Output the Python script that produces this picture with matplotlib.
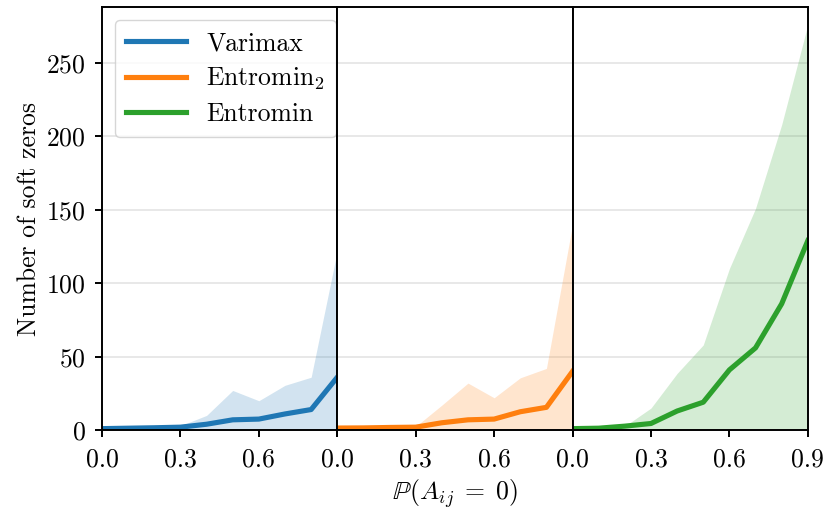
import numpy as np
import matplotlib
matplotlib.use("Agg")
import matplotlib.pyplot as plt

plt.rcParams['font.family'] = 'serif'
plt.rcParams['font.serif'] = ['cmr10']
plt.rcParams['mathtext.fontset'] = 'cm'
plt.rcParams['axes.formatter.use_mathtext'] = True

x = [0.0, 0.1, 0.2, 0.3, 0.4, 0.5, 0.6, 0.7, 0.8, 0.9]
methods = ["Varimax", r"Entromin$_2$", "Entromin"]
colors = ["#1f77b4", "#ff7f0e", "#2ca02c"]
varimax_mean = [1, 1.3, 1.6, 2, 4, 7, 7.5, 11, 14, 36]
varimax_upper = [1.5, 2, 2.5, 3, 10, 27, 20, 30.5, 36, 122]
entromin2_mean = [1.4, 1.5, 1.8, 2, 5, 7, 7.5, 12.5, 15.5, 40]
entromin2_upper = [2, 2.5, 3, 2.5, 17, 32, 22, 35.6, 42, 140]
entromin_mean = [1, 1.3, 2.7, 4.5, 13, 19, 41, 56, 86, 129]
entromin_upper = [1.5, 2, 2.7, 15, 38.6, 58, 110, 151, 208, 276]
means = [varimax_mean, entromin2_mean, entromin_mean]
uppers = [varimax_upper, entromin2_upper, entromin_upper]
yticks = [0, 50, 100, 150, 200, 250]

FS = 18.5

fig, axes = plt.subplots(1, 3, sharey=True, figsize=(8.26, 5.09), dpi=100)
fig.subplots_adjust(left=0.1235, right=0.978, top=0.986, bottom=0.155, wspace=0)

lines = []
for i, ax in enumerate(axes):
    ax.fill_between(x, 0, uppers[i], color=colors[i], alpha=0.2, linewidth=0)
    ln, = ax.plot(x, means[i], color=colors[i], linewidth=3.7, label=methods[i])
    lines.append(ln)
    ax.set_xlim(0, 0.9)
    ax.set_ylim(0, 288)
    ax.set_yticks(yticks)
    ax.grid(axis='y', color='#e6e6e6', linewidth=1.3)
    ax.set_axisbelow(True)
    for s in ax.spines.values():
        s.set_linewidth(1.4)
    ax.tick_params(axis='both', labelsize=FS, width=1.4, length=5)
    ax.tick_params(axis='x', pad=8)
    ax.tick_params(axis='y', pad=6.5)
    ax.set_xticks([0.0, 0.3, 0.6, 0.9])
    if i < 2:
        ax.set_xticklabels(["0.0", "0.3", "0.6", ""])
    else:
        ax.set_xticklabels(["0.0", "0.3", "0.6", "0.9"])
    if i > 0:
        ax.tick_params(axis='y', left=False)

axes[0].set_ylabel("Number of soft zeros", fontsize=FS, labelpad=4)
fig.text((0.1235 + 0.978) / 2, 1 - 494 / 509, r"$\mathbb{P}(A_{ij}\;=\;0)$", ha='center', va='center', fontsize=FS)
axes[0].legend(handles=lines, loc='upper left', fontsize=FS, handlelength=2.3,
               framealpha=0.8, edgecolor='#cccccc', borderpad=0.45, labelspacing=0.4,
               borderaxespad=0.5)

fig.savefig("out.png", dpi=100)
